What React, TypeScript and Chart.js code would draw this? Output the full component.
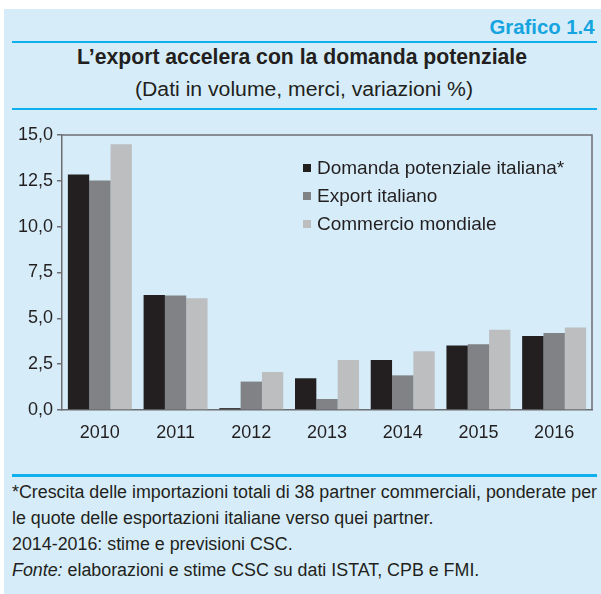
import React, { useEffect, useRef } from "react";
import { Chart, registerables } from "chart.js";

Chart.register(...registerables);

const categories = ["2010", "2011", "2012", "2013", "2014", "2015", "2016"];
const seriesNames = ["Domanda potenziale italiana*", "Export italiano", "Commercio mondiale"];
const domandaPotenziale = [12.85, 6.27, 0.1, 1.73, 2.73, 3.52, 4.03];
const exportItaliano = [12.52, 6.24, 1.55, 0.6, 1.89, 3.58, 4.2];
const commercioMondiale = [14.5, 6.1, 2.07, 2.73, 3.2, 4.38, 4.5];
const seriesColors = ["#231f20", "#808285", "#bcbec0"];
const yTicks = [0, 2.5, 5, 7.5, 10, 12.5, 15];

const footnotes = [
  "*Crescita delle importazioni totali di 38 partner commerciali, ponderate per",
  "le quote delle esportazioni italiane verso quei partner.",
  "2014-2016: stime e previsioni CSC.",
];
const sourceLabel = "Fonte:";
const sourceText = " elaborazioni e stime CSC su dati ISTAT, CPB e FMI.";

const SANS = '"Liberation Sans", Arial, Helvetica, sans-serif';
const AXIS = "#6d6e71";
const INK = "#231f20";

function measure(text: string, font: string): number {
  const c = document.createElement("canvas").getContext("2d")!;
  c.font = font;
  return c.measureText(text).width;
}

const legendPlugin = {
  id: "insideLegend",
  afterDraw(chart: any) {
    const { ctx, chartArea } = chart;
    ctx.save();
    ctx.font = `19px ${SANS}`;
    ctx.textBaseline = "middle";
    ctx.textAlign = "left";
    chart.data.datasets.forEach((ds: any, i: number) => {
      const y = chartArea.top + 33 + i * 28;
      const x = chartArea.right - 289;
      ctx.fillStyle = ds.backgroundColor;
      ctx.fillRect(x, y - 4, 8, 8);
      ctx.fillStyle = INK;
      ctx.fillText(ds.label, x + 14, y + 1);
    });
    ctx.restore();
  },
};

const framePlugin = {
  id: "frame",
  afterDraw(chart: any) {
    const { ctx, chartArea } = chart;
    ctx.save();
    ctx.strokeStyle = AXIS;
    ctx.lineWidth = 1.5;
    ctx.beginPath();
    ctx.moveTo(chartArea.left, chartArea.top);
    ctx.lineTo(chartArea.right, chartArea.top);
    ctx.lineTo(chartArea.right, chartArea.bottom);
    ctx.stroke();
    ctx.restore();
  },
};

function BarChart() {
  const ref = useRef<HTMLCanvasElement>(null);
  useEffect(() => {
    const data = [domandaPotenziale, exportItaliano, commercioMondiale];
    const chart = new Chart(ref.current!, {
      type: "bar",
      data: {
        labels: categories,
        datasets: seriesNames.map((name, i) => ({
          label: name,
          data: data[i],
          backgroundColor: seriesColors[i],
          borderWidth: 0,
          categoryPercentage: 0.845,
          barPercentage: 1.0,
        })),
      },
      options: {
        animation: false,
        responsive: false,
        maintainAspectRatio: false,
        layout: { padding: { top: 20, right: 9, left: 0, bottom: 0 } },
        plugins: { legend: { display: false }, tooltip: { enabled: false } },
        scales: {
          x: {
            grid: { display: false, drawTicks: false },
            border: { display: true, color: AXIS, width: 1.5 },
            ticks: { color: INK, font: { family: SANS, size: 18 }, padding: 12 },
            afterFit(scale: any) {
              scale.height = 40;
            },
          },
          y: {
            min: 0,
            max: 15,
            afterBuildTicks(scale: any) {
              scale.ticks = yTicks.map((v) => ({ value: v }));
            },
            grid: { drawOnChartArea: false, drawTicks: true, tickLength: 5, color: AXIS, lineWidth: 1.5 },
            border: { display: true, color: AXIS, width: 1.5 },
            ticks: {
              color: INK,
              font: { family: SANS, size: 18 },
              padding: 4,
              callback: (v: any) => Number(v).toFixed(1).replace(".", ","),
            },
            afterFit(scale: any) {
              scale.width = 58;
            },
          },
        },
      },
      plugins: [legendPlugin, framePlugin],
    });
    return () => chart.destroy();
  }, []);
  return (
    <canvas
      ref={ref}
      width={597}
      height={335}
      style={{ position: "absolute", left: 4, top: 115, width: 597, height: 335 }}
    />
  );
}

type NarrowProps = {
  children: React.ReactNode;
  scale: number;
  size: number;
  bold?: boolean;
  color?: string;
  top: number;
  left?: number;
  right?: number;
  center?: number;
};

function Narrow({ children, scale, size, bold, color, top, left, right, center }: NarrowProps) {
  let origin = "left top";
  const style: React.CSSProperties = {
    position: "absolute",
    top,
    fontFamily: SANS,
    fontSize: size,
    fontWeight: bold ? "bold" : "normal",
    color: color || INK,
    lineHeight: `${size}px`,
    whiteSpace: "nowrap",
  };
  if (left !== undefined) {
    style.left = left;
    style.transform = `scaleX(${scale})`;
  } else if (right !== undefined) {
    style.right = right;
    origin = "right top";
    style.transform = `scaleX(${scale})`;
  } else if (center !== undefined) {
    style.left = center;
    origin = "left top";
    style.transform = `translateX(-50%) scaleX(${scale})`;
    origin = "center top";
  }
  style.transformOrigin = origin;
  return <div style={style}>{children}</div>;
}

export default function App() {
  const grafico = "Grafico 1.4";
  const title = "L’export accelera con la domanda potenziale";
  const subtitle = "(Dati in volume, merci, variazioni %)";
  const sGraf = 105 / measure(grafico, `bold 21px ${SANS}`);
  const sTitle = 450 / measure(title, `bold 22px ${SANS}`);
  const sSub = 338 / measure(subtitle, `20px ${SANS}`);
  const sFoot = 585 / measure(footnotes[0], `18px ${SANS}`);

  const lineStyle: React.CSSProperties = {
    position: "absolute",
    left: 12,
    width: 585,
    height: 2.5,
    background: "#0fb0ef",
  };
  const footTops = [483, 509, 535, 561];
  return (
    <div style={{ position: "absolute", left: 0, top: 0, width: 601, height: 594, background: "#fff", overflow: "hidden" }}>
      <div style={{ position: "absolute", left: 4, top: 9, width: 597, height: 585, background: "#d6edf9" }} />
      <Narrow scale={sGraf} size={21} bold color="#15a4e0" top={15.5} right={6}>
        {grafico}
      </Narrow>
      <div style={{ ...lineStyle, top: 40.5 }} />
      <div style={{ position: "absolute", left: 0, width: 601, top: 46.4, height: 24 }}>
        <Narrow scale={sTitle} size={22} bold top={0} center={302}>
          {title}
        </Narrow>
      </div>
      <div style={{ position: "absolute", left: 0, width: 601, top: 79.1, height: 24 }}>
        <Narrow scale={sSub} size={20} top={0} center={304}>
          {subtitle}
        </Narrow>
      </div>
      <div style={{ ...lineStyle, top: 107.5 }} />
      <BarChart />
      <div style={{ ...lineStyle, top: 474 }} />
      {footnotes.map((t, i) => (
        <Narrow key={i} scale={sFoot} size={18} top={footTops[i]} left={12}>
          {t}
        </Narrow>
      ))}
      <Narrow scale={sFoot} size={18} top={footTops[3]} left={12}>
        <i>{sourceLabel}</i>
        {sourceText}
      </Narrow>
    </div>
  );
}
